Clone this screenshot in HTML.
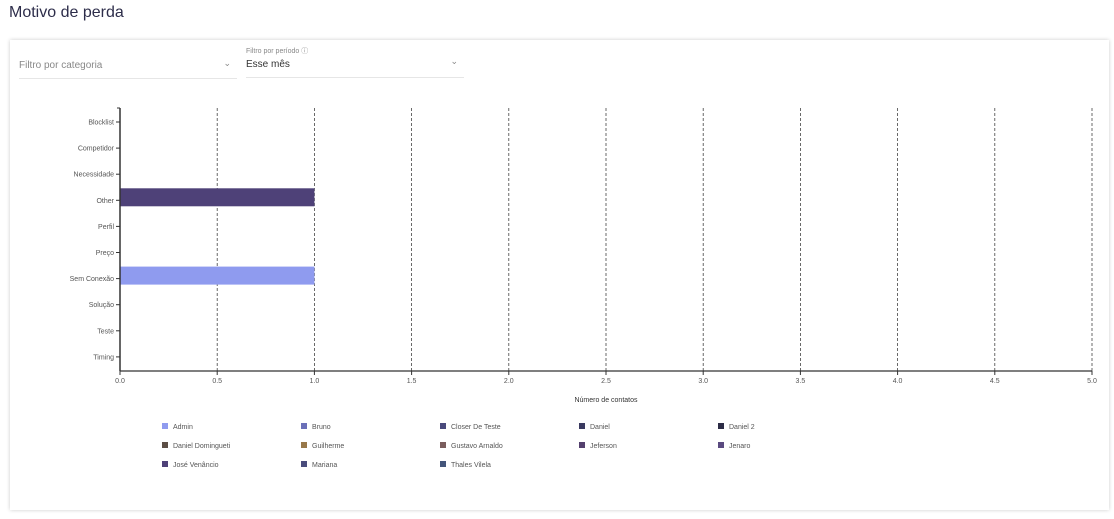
<!DOCTYPE html>
<html><head><meta charset="utf-8"><style>
body{margin:0;width:1114px;height:519px;background:#fff;font-family:"Liberation Sans",sans-serif;position:relative;overflow:hidden}
.t{position:absolute;left:9px;top:4px;font-size:16px;color:#2d2d4a}
.card{position:absolute;left:10px;top:40px;width:1099px;height:470px;background:#fff;box-shadow:0 0 4px rgba(0,0,0,.2)}
.sel{position:absolute;border-bottom:1px solid #e6e6e6;font-size:10px;color:#555}
.chev{position:absolute;right:6px;font-size:9px;color:#888}
</style></head><body>
<div class="t">Motivo de perda</div>
<div class="card">
<div class="sel" style="left:9px;top:14px;width:218px;height:24px"><span style="position:absolute;top:6px;color:#888">Filtro por categoria</span><span class="chev" style="top:4px">⌄</span></div>
<div class="sel" style="left:236px;top:6px;width:218px;height:31px"><span style="position:absolute;top:0;font-size:7px;color:#888">Filtro por período ⓘ</span><span style="position:absolute;top:13px;color:#333">Esse mês</span><span class="chev" style="top:10px">⌄</span></div>
</div>
<svg id="c" width="1114" height="519" style="position:absolute;left:0;top:0"></svg>
<script>
const categories=["Blocklist","Competidor","Necessidade","Other","Perfil","Preço","Sem Conexão","Solução","Teste","Timing"];
const barCategories=["Other","Sem Conexão"];
const barValues=[1,1];
const barSeries=["José Venâncio","Admin"];
const xTicks=[0,0.5,1,1.5,2,2.5,3,3.5,4,4.5,5];
const legendNames=["Admin","Bruno","Closer De Teste","Daniel","Daniel 2","Daniel Domingueti","Guilherme","Gustavo Arnaldo","Jeferson","Jenaro","José Venâncio","Mariana","Thales Vilela"];
const legendColors=["#8f9bef","#6b70b8","#4a4a7c","#3a3a60","#2c2c46","#5c4e45","#98784a","#7a5d5d","#54406e","#5a4a80","#4e4178","#4a4c7c","#44557a"];
const NS="http://www.w3.org/2000/svg",s=document.getElementById('c');
const x=v=>120+v*194.4, top0=109, step=26.1;
const y=c=>top0+categories.indexOf(c)*step;
function el(t,a,txt){const e=document.createElementNS(NS,t);for(const k in a)e.setAttribute(k,a[k]);if(txt!=null)e.textContent=txt;s.appendChild(e);return e;}
xTicks.forEach(v=>{
 if(v>0){const g=el('line',{x1:x(v),x2:x(v),y1:108,y2:371,stroke:'#444','stroke-dasharray':'3,2','stroke-width':0.8});
 }
 const t=el('text',{x:x(v),y:383,'font-size':7,fill:'#555','text-anchor':'middle'},v.toFixed(1));
 
 el('line',{x1:x(v),x2:x(v),y1:371,y2:375,stroke:'#333'});
});
barCategories.forEach((c,i)=>{
 const ci=legendNames.indexOf(barSeries[i]);
 const r=el('rect',{x:x(0),y:y(c)+1,width:x(barValues[i])-x(0),height:18,fill:legendColors[ci]});
 
 
});
el('line',{x1:120,x2:120,y1:108,y2:371,stroke:'#333','stroke-width':1.5});
el('line',{x1:117,x2:120,y1:108,y2:108,stroke:'#333'});
el('line',{x1:120,x2:1092,y1:371,y2:371,stroke:'#333','stroke-width':1.2});
categories.forEach(c=>{
 const ty=y(c)+13;
 el('line',{x1:116,x2:120,y1:ty,y2:ty,stroke:'#333'});
 const t=el('text',{x:114,y:ty+2.5,'font-size':7,fill:'#555','text-anchor':'end'},c);
 
});
const xt=el('text',{x:606,y:402,'font-size':7,fill:'#333','text-anchor':'middle'},'Número de contatos');

legendNames.forEach((n,i)=>{
 const lx=162+(i%5)*139, ly=423+Math.floor(i/5)*19;
 const r=el('rect',{x:lx,y:ly,width:6,height:6,fill:legendColors[i]});
 
 const t=el('text',{x:lx+11,y:ly+6,'font-size':7,fill:'#555'},n);
 
});
</script>
</body></html>
